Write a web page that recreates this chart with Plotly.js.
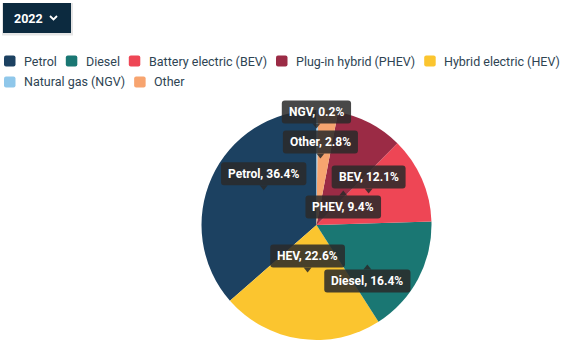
<!DOCTYPE html>
<html>
<head>
<meta charset="utf-8">
<script src="https://cdn.plot.ly/plotly-3.0.1.min.js"></script>
<style>
  html, body { margin: 0; padding: 0; background: #ffffff; }
  #chart { width: 573px; height: 360px; }
</style>
</head>
<body>
<div id="chart"></div>
<script>
// ---------- data ----------
const categories = ['Petrol', 'Diesel', 'Battery electric (BEV)', 'Plug-in hybrid (PHEV)', 'Hybrid electric (HEV)', 'Natural gas (NGV)', 'Other'];
const shortLabels = ['Petrol', 'Diesel', 'BEV', 'PHEV', 'HEV', 'NGV', 'Other'];
const shares = [36.4, 16.4, 12.1, 9.4, 22.6, 0.2, 2.8];
const yearOptions = ['2022'];

// ---------- styles / layout ----------
const colors = ['#1c4161', '#1a7773', '#ee4655', '#9b2b45', '#fbc52f', '#8fc7ea', '#f7a46f'];
const W = 573, H = 360;
const CX = 316.5, CY = 225, R = 115;
// label placement: radius fraction, angular tweak (deg, clockwise), pointer direction
const labelPlace = {
  Petrol: { f: 0.55, d: 9, dir: 'down' },
  Diesel: { f: 0.56, d: 10, dir: 'up' },
  BEV:    { f: 0.53, d: -7.7, dir: 'down' },
  PHEV:   { f: 0.38, d: 10, dir: 'up' },
  HEV:    { f: 0.42, d: 2.5, dir: 'down' },
  NGV:    { f: 0.84, d: -0.4, dir: 'down' },
  Other:  { f: 0.58, d: -2.4, dir: 'down' }
};
const labelFont = 'Roboto';
const labelSize = 12;
const legendFont = 'Roboto';
const legendSize = 12.5;

const X = px => px / W;
const Y = py => 1 - py / H;

const cv = document.createElement('canvas').getContext('2d');
function textW(str, font) { cv.font = font; return cv.measureText(str).width; }

function roundRect(x0, y0, x1, y1, r) {
  return `M${X(x0 + r)},${Y(y0)} L${X(x1 - r)},${Y(y0)} Q${X(x1)},${Y(y0)} ${X(x1)},${Y(y0 + r)} ` +
         `L${X(x1)},${Y(y1 - r)} Q${X(x1)},${Y(y1)} ${X(x1 - r)},${Y(y1)} L${X(x0 + r)},${Y(y1)} ` +
         `Q${X(x0)},${Y(y1)} ${X(x0)},${Y(y1 - r)} L${X(x0)},${Y(y0 + r)} Q${X(x0)},${Y(y0)} ${X(x0 + r)},${Y(y0)} Z`;
}

const shapes = [];
const annotations = [];

// ---------- pie slice label callouts ----------
const total = shares.reduce((a, b) => a + b, 0);
const order = shares.map((v, i) => i).sort((a, b) => shares[b] - shares[a]);
let cum = 0;
order.forEach(i => {
  const v = shares[i];
  const ccw = (cum + v / 2) / total * 360;
  cum += v;
  const p = labelPlace[shortLabels[i]];
  const th = (360 - ccw + p.d) * Math.PI / 180;
  const tx = CX + R * p.f * Math.sin(th);
  const ty = CY - R * p.f * Math.cos(th);
  const txt = `${shortLabels[i]}, ${v.toFixed(1)}%`;
  const w = textW(txt, `bold ${labelSize}px ${labelFont}`) + 14;
  const h = 23, ph = 5, pw = 4;
  let y0, y1, tri;
  if (p.dir === 'down') {
    y1 = ty - ph; y0 = y1 - h;
    tri = `M${X(tx - pw)},${Y(y1)} L${X(tx)},${Y(ty)} L${X(tx + pw)},${Y(y1)} Z`;
  } else {
    y0 = ty + ph; y1 = y0 + h;
    tri = `M${X(tx - pw)},${Y(y0)} L${X(tx)},${Y(ty)} L${X(tx + pw)},${Y(y0)} Z`;
  }
  const fill = 'rgba(42,42,42,0.86)';
  shapes.push({ type: 'path', xref: 'paper', yref: 'paper', path: roundRect(tx - w / 2, y0, tx + w / 2, y1, 3), fillcolor: fill, line: { width: 0 }, layer: 'above' });
  shapes.push({ type: 'path', xref: 'paper', yref: 'paper', path: tri, fillcolor: fill, line: { width: 0 }, layer: 'above' });
  annotations.push({ xref: 'paper', yref: 'paper', x: X(tx), y: Y((y0 + y1) / 2), text: `<b>${txt}</b>`, showarrow: false, xanchor: 'center', yanchor: 'middle', borderpad: 0, font: { family: labelFont, size: labelSize, color: '#ffffff' } });
});

// ---------- legend ----------
let lx = 4, row = 0;
const rowY = [61, 82];
categories.forEach((c, i) => {
  const tw = textW(c, `${legendSize}px ${legendFont}`);
  if (lx + 19 + tw > W) { row += 1; lx = 4; }
  const cy = rowY[row];
  shapes.push({ type: 'path', xref: 'paper', yref: 'paper', path: roundRect(lx, cy - 5.5, lx + 11.5, cy + 5.5, 2), fillcolor: colors[i], line: { width: 0 } });
  annotations.push({ xref: 'paper', yref: 'paper', x: X(lx + 19), y: Y(cy), text: c, showarrow: false, xanchor: 'left', yanchor: 'middle', borderpad: 0, font: { family: legendFont, size: legendSize, color: '#2e4453' } });
  lx += 19 + tw + 10;
});

// ---------- year selector ----------
shapes.push({ type: 'rect', xref: 'paper', yref: 'paper', x0: X(2), x1: X(73), y0: Y(35.5), y1: Y(3), fillcolor: 'rgba(0,0,0,0.10)', line: { width: 0 } });
shapes.push({ type: 'rect', xref: 'paper', yref: 'paper', x0: X(3), x1: X(71), y0: Y(33), y1: Y(3), fillcolor: '#0c2a3f', line: { width: 0 } });
shapes.push({ type: 'path', xref: 'paper', yref: 'paper', path: `M${X(50)},${Y(16)} L${X(53.5)},${Y(19.5)} L${X(57)},${Y(16)}`, line: { color: '#ffffff', width: 1.8 } });
annotations.push({ xref: 'paper', yref: 'paper', x: X(13), y: Y(18.5), text: `<b>${yearOptions[0]}</b>`, showarrow: false, xanchor: 'left', yanchor: 'middle', borderpad: 0, font: { family: 'Roboto', size: 12.5, color: '#ffffff' } });

// ---------- pie ----------
// Plotly's counterclockwise layout ends the first slice at 12 o'clock; rotate so it starts there instead
const firstShare = shares[order[0]];
const trace = {
  type: 'pie',
  labels: categories,
  values: shares,
  marker: { colors: colors, line: { width: 0 } },
  sort: true,
  direction: 'counterclockwise',
  rotation: -firstShare / total * 360,
  textinfo: 'none',
  hoverinfo: 'label+percent',
  showlegend: false,
  domain: { x: [X(CX - R), X(CX + R)], y: [1 - (CY + R) / H, 1 - (CY - R) / H] }
};

const layout = {
  width: W, height: H, autosize: false,
  margin: { l: 0, r: 0, t: 0, b: 0, pad: 0 },
  paper_bgcolor: '#ffffff',
  showlegend: false,
  shapes: shapes,
  annotations: annotations,
  font: { family: 'Roboto' }
};

Plotly.newPlot('chart', [trace], layout, { displayModeBar: false, staticPlot: true });
</script>
</body>
</html>
